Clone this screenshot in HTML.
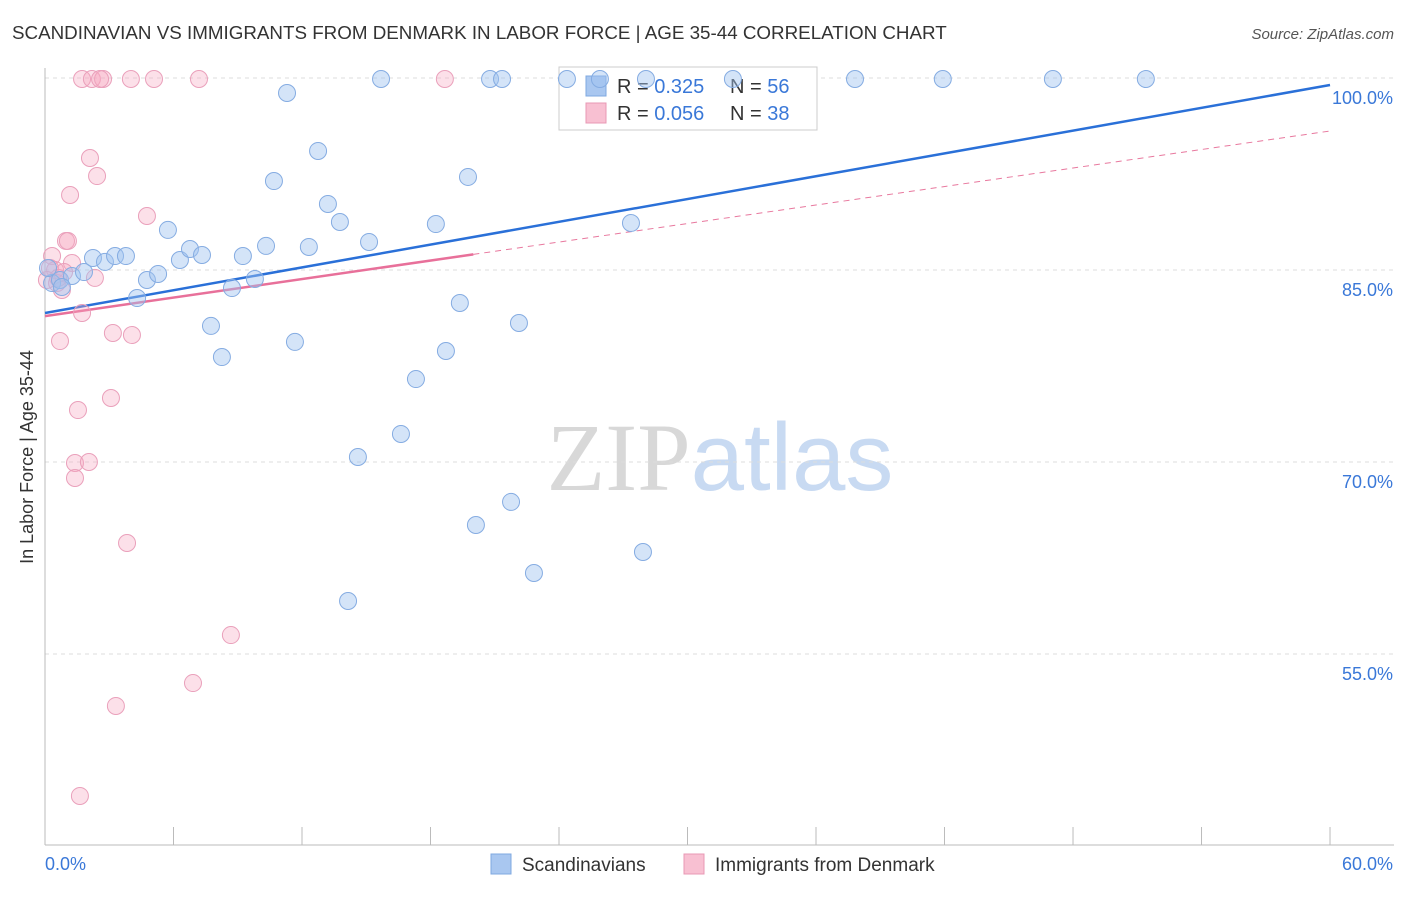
<!DOCTYPE html>
<html><head><meta charset="utf-8"><style>
body{margin:0;background:#fff;font-family:"Liberation Sans",sans-serif;}
svg text{font-family:"Liberation Sans",sans-serif;}
</style></head><body>
<svg id="chart" width="1406" height="892" viewBox="0 0 1406 892" xmlns="http://www.w3.org/2000/svg">
<text x="12" y="39" font-size="18.8" fill="#333">SCANDINAVIAN VS IMMIGRANTS FROM DENMARK IN LABOR FORCE | AGE 35-44 CORRELATION CHART</text>
<text x="1394" y="39" font-size="15" fill="#555" text-anchor="end" font-style="italic">Source: ZipAtlas.com</text>
<text transform="translate(33,457) rotate(-90)" font-size="18" fill="#333" text-anchor="middle">In Labor Force | Age 35-44</text>
<text x="720" y="490" font-size="96" text-anchor="middle"><tspan fill="#d8d8d8" font-family="Liberation Serif">ZIP</tspan><tspan fill="#c8daf2">atlas</tspan></text>
<g id="grid"></g><g id="axes"></g>
<g>
<rect x="559" y="67" width="258" height="63" fill="#fff" stroke="#ccc"/>
<rect x="586" y="76" width="20" height="20" fill="#a9c7f0" stroke="#7fa8e0"/>
<text x="617" y="93" font-size="20" fill="#333">R = <tspan fill="#3a78d8">0.325</tspan></text>
<text x="730" y="93" font-size="20" fill="#333">N = <tspan fill="#3a78d8">56</tspan></text>
<rect x="586" y="103" width="20" height="20" fill="#f8c0d2" stroke="#e898b4"/>
<text x="617" y="120" font-size="20" fill="#333">R = <tspan fill="#3a78d8">0.056</tspan></text>
<text x="730" y="120" font-size="20" fill="#333">N = <tspan fill="#3a78d8">38</tspan></text>
</g>
<g id="lines"></g><g id="pts"></g>
<g>
<rect x="491" y="854" width="20" height="20" fill="#a9c7f0" stroke="#7fa8e0"/>
<text x="522" y="871" font-size="19" fill="#333">Scandinavians</text>
<rect x="684" y="854" width="20" height="20" fill="#f8c0d2" stroke="#e898b4"/>
<text x="715" y="871" font-size="19" fill="#333">Immigrants from Denmark</text>
</g>
</svg>
<script>
const blueX=[0.33,0.70,1.26,1.82,2.24,2.80,3.27,3.78,4.30,4.76,5.28,5.74,6.30,6.77,7.33,7.75,8.26,8.73,9.24,9.80,10.32,10.69,11.30,11.67,12.32,12.75,13.21,13.77,14.61,15.13,15.69,14.15,16.62,17.32,18.25,18.72,19.37,19.75,20.12,20.78,21.34,21.76,22.13,22.83,24.37,25.91,27.36,27.92,28.06,32.12,37.82,41.92,47.06,51.40,0.79,0.14];
const blueY=[83.98,84.22,84.53,84.84,85.94,85.63,86.09,86.09,82.81,84.22,84.69,88.13,85.78,86.64,86.17,80.63,78.20,83.59,86.09,84.30,86.88,91.95,98.83,79.38,86.80,94.30,90.16,88.75,70.39,87.19,99.92,59.14,72.19,76.48,88.59,78.67,82.42,92.27,65.08,99.92,99.92,66.88,80.86,61.33,99.92,99.92,88.67,62.97,99.92,99.92,99.92,99.92,99.92,99.92,83.67,85.16];
const pinkX=[0.33,0.47,0.56,0.79,0.70,0.98,1.07,1.17,1.26,1.54,1.40,1.40,1.73,2.10,2.19,2.33,2.43,2.05,2.71,1.73,3.08,3.17,3.31,3.83,4.01,4.06,4.76,5.09,6.91,7.19,8.68,18.67,1.63,0.23,0.61,0.09,0.89,2.57];
const pinkY=[86.09,85.0,83.98,83.44,79.45,87.27,87.27,90.86,85.55,74.06,69.92,68.75,99.92,93.75,99.92,84.38,92.34,70.0,99.92,81.64,75.0,80.08,50.94,63.67,99.92,79.92,89.22,99.92,52.73,99.92,56.48,99.92,43.91,85.16,84.38,84.22,84.84,99.92];
const yTicks=[100,85,70,55];
const yTickLabels=["100.0%","85.0%","70.0%","55.0%"];
const xTicks=[0,6,12,18,24,30,36,42,48,54,60];
const blueTrend=[81.64,99.45];
const pinkTrend=[81.4,95.86];
const pinkSolidEnd=20;
const NS="http://www.w3.org/2000/svg";
const sx=v=>45+v*21.417, sy=v=>78+(100-v)*12.8;
function mk(tag,attrs,parent){const e=document.createElementNS(NS,tag);for(const k in attrs)e.setAttribute(k,attrs[k]);document.getElementById(parent).appendChild(e);return e;}
yTicks.forEach((t,i)=>{
 const g=mk('line',{x1:45,x2:1394,y1:sy(t),y2:sy(t),stroke:'#ddd','stroke-dasharray':'4,4'},'grid');
 
 
 const tx=mk('text',{x:1393,y:sy(t)+26,'font-size':18,fill:'#3a78d8','text-anchor':'end'},'axes');
 tx.textContent=yTickLabels[i];
 
 
});
const ax=mk('line',{x1:45,x2:1394,y1:845,y2:845,stroke:'#bbb'},'axes');


const ay=mk('line',{x1:45,x2:45,y1:68,y2:845,stroke:'#bbb'},'axes');


xTicks.forEach(t=>{const l=mk('line',{x1:sx(t),x2:sx(t),y1:827,y2:845,stroke:'#bbb'},'axes');
 
 });
const xl0=mk('text',{x:45,y:870,'font-size':18,fill:'#3a78d8'},'axes');xl0.textContent='0.0%';


const xl1=mk('text',{x:1393,y:870,'font-size':18,fill:'#3a78d8','text-anchor':'end'},'axes');xl1.textContent='60.0%';


pinkX.forEach((x,i)=>{const c=mk('circle',{cx:sx(x),cy:sy(pinkY[i]),r:8.5,fill:'rgba(245,165,192,0.35)',stroke:'#eaa0bb','stroke-width':1},'pts');
 
 });
blueX.forEach((x,i)=>{const c=mk('circle',{cx:sx(x),cy:sy(blueY[i]),r:8.5,fill:'rgba(160,195,240,0.45)',stroke:'#85ace2','stroke-width':1},'pts');
 
 });
const pf=v=>pinkTrend[0]+(pinkTrend[1]-pinkTrend[0])*v/60;
const pd=mk('line',{x1:sx(pinkSolidEnd),y1:sy(pf(pinkSolidEnd)),x2:sx(60),y2:sy(pinkTrend[1]),stroke:'#e8789e','stroke-width':1,'stroke-dasharray':'6,5'},'lines');


const ps=mk('line',{x1:sx(0),y1:sy(pinkTrend[0]),x2:sx(pinkSolidEnd),y2:sy(pf(pinkSolidEnd)),stroke:'#e8709a','stroke-width':2.5},'lines');


const bl=mk('line',{x1:sx(0),y1:sy(blueTrend[0]),x2:sx(60),y2:sy(blueTrend[1]),stroke:'#2a70d8','stroke-width':2.5},'lines');


</script>
</body></html>
